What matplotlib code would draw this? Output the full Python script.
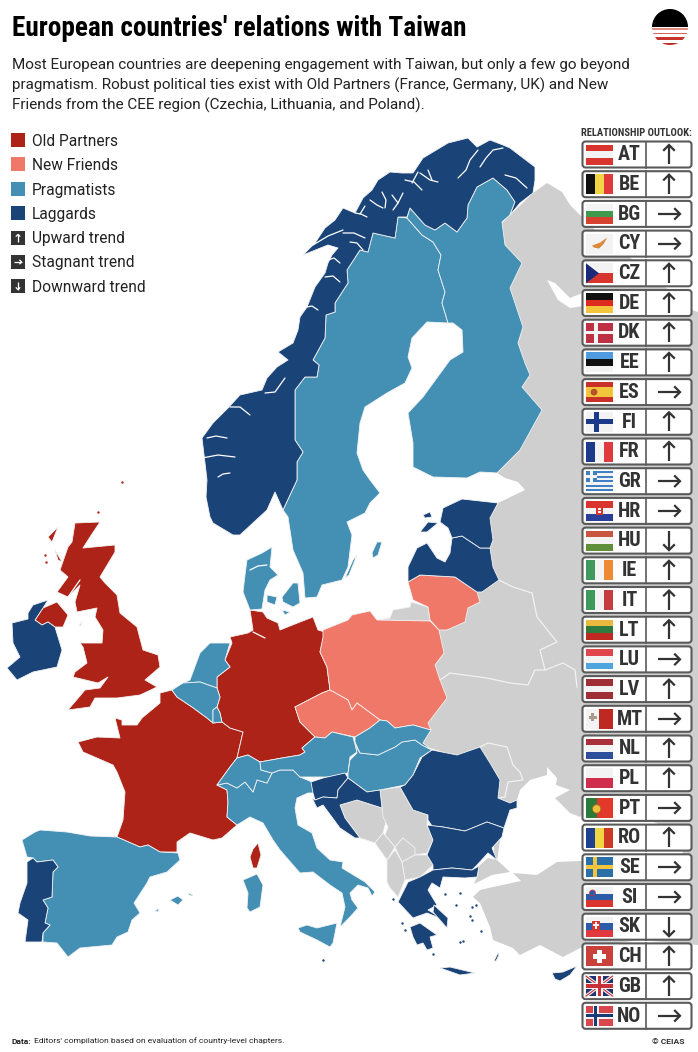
# -*- coding: utf-8 -*-
import matplotlib
matplotlib.use('Agg')
import matplotlib.pyplot as plt
from matplotlib import font_manager
from matplotlib.patches import Polygon, Rectangle, FancyBboxPatch, Circle

# colours
OLD = '#AE2318'
NEW = '#EF7868'
PRAG = '#4490B5'
LAG = '#1A4377'
GREY = '#CFCFCF'

TITLE = "European countries' relations with Taiwan"
INTRO = ["Most European countries are deepening engagement with Taiwan, but only a few go beyond",
         "pragmatism. Robust political ties exist with Old Partners (France, Germany, UK) and New",
         "Friends from the CEE region (Czechia, Lithuania, and Poland)."]
LEGEND_GROUPS = ['Old Partners', 'New Friends', 'Pragmatists', 'Laggards']
LEGEND_TRENDS = ['Upward trend', 'Stagnant trend', 'Downward trend']
TREND_KEYS = ['up', 'right', 'down']

CODES = ['AT', 'BE', 'BG', 'CY', 'CZ', 'DE', 'DK', 'EE', 'ES', 'FI', 'FR', 'GR', 'HR', 'HU', 'IE',
         'IT', 'LT', 'LU', 'LV', 'MT', 'NL', 'PL', 'PT', 'RO', 'SE', 'SI', 'SK', 'CH', 'GB', 'NO']
TRENDS = ['up', 'up', 'right', 'right', 'up', 'up', 'up', 'up', 'right', 'up', 'up', 'right', 'right', 'down', 'up',
          'up', 'up', 'right', 'up', 'right', 'up', 'up', 'right', 'up', 'right', 'right', 'down', 'up', 'up', 'right']

# flags made of plain stripes: (direction, colours)
STRIPES = {
    'AT': ('h', ['#D8352F', '#F3F3F3', '#D8352F']),
    'BE': ('v', ['#111111', '#F2D545', '#E03A3E']),
    'BG': ('h', ['#F3F3F3', '#3E9A4C', '#D8412F']),
    'CZ': ('h', ['#F3F3F3', '#D8352F']),
    'DE': ('h', ['#111111', '#DD2C1F', '#F2C53D']),
    'EE': ('h', ['#4F9BE0', '#111111', '#F3F3F3']),
    'FR': ('v', ['#1B3A8A', '#F3F3F3', '#E03A3E']),
    'HU': ('h', ['#C8553D', '#F3F3F3', '#5F8F3A']),
    'IE': ('v', ['#3E9A5C', '#F3F3F3', '#EE8A33']),
    'IT': ('v', ['#3E9A5C', '#F3F3F3', '#C43D40']),
    'LT': ('h', ['#E8B93C', '#2F7A3E', '#BE2A22']),
    'LU': ('h', ['#E0474C', '#F3F3F3', '#4FA6DE']),
    'LV': ('h', ['#9E3035', '#F3F3F3', '#9E3035']),
    'NL': ('h', ['#A8303A', '#F3F3F3', '#2E4F9A']),
    'PL': ('h', ['#F3F3F3', '#CF2E4C']),
    'RO': ('v', ['#1F3F8F', '#F2D545', '#CC3A26']),
    'SI': ('h', ['#F3F3F3', '#2A5CAA', '#D8352F']),
    'SK': ('h', ['#F3F3F3', '#2A5CAA', '#E03A3E']),
    'HR': ('h', ['#D8352F', '#F3F3F3', '#2A3F9A']),
    'ES': ('h', ['#C9302A', '#F2C53D', '#F2C53D', '#C9302A']),
}

# map outlines (x right, y down)
NORWAY = [(535, 167), (510, 148), (503, 145), (490, 140), (477, 147), (468, 138), (448, 143), (423, 158), (413, 173),
          (402, 173), (390, 172), (378, 180), (372, 190), (363, 198), (355, 213), (343, 208), (335, 220), (325, 228),
          (315, 243), (303, 255), (328, 245), (338, 248), (332, 255), (328, 263), (325, 273), (315, 287), (307, 307),
          (300, 317), (298, 330), (293, 343), (278, 352), (288, 360), (277, 367), (267, 378), (262, 390), (240, 395),
          (228, 408), (213, 423), (202, 438), (205, 463), (207, 480), (206, 497), (210, 517), (213, 523), (233, 535),
          (240, 535), (267, 510), (275, 492), (283, 510), (297, 480), (297, 462), (303, 452), (295, 440), (295, 390),
          (305, 377), (317, 377), (319, 365), (313, 360), (325, 338), (326, 315), (335, 312), (335, 303), (348, 283),
          (347, 270), (360, 250), (368, 252), (373, 233), (395, 238), (398, 217), (407, 217), (410, 208), (425, 225),
          (435, 230), (445, 223), (457, 232), (467, 218), (468, 205), (477, 187), (493, 178), (507, 190), (515, 202),
          (510, 215), (520, 203), (533, 193), (535, 180)]
SWEDEN = [(398, 217), (407, 218), (422, 235), (433, 242), (441, 255), (438, 270), (445, 292), (442, 303), (448, 323),
          (427, 322), (412, 338), (408, 357), (412, 368), (405, 383), (387, 393), (365, 407), (360, 423), (357, 453),
          (363, 470), (370, 480), (380, 493), (370, 503), (365, 513), (347, 522), (352, 535), (348, 567), (342, 580),
          (322, 585), (317, 597), (305, 598), (303, 573), (293, 550), (288, 517), (283, 510), (297, 480), (297, 462),
          (303, 452), (295, 440), (295, 390), (305, 377), (317, 377), (319, 365), (313, 360), (325, 338), (326, 315),
          (335, 312), (335, 303), (348, 283), (347, 270), (360, 250), (368, 252), (373, 233), (395, 238)]
FINLAND = [(448, 323), (442, 303), (445, 292), (438, 270), (441, 255), (433, 242), (422, 235), (407, 218), (410, 208),
           (425, 225), (435, 230), (445, 223), (457, 232), (467, 218), (468, 205), (477, 187), (493, 178), (507, 190),
           (515, 202), (510, 215), (502, 222), (505, 245), (522, 263), (510, 288), (523, 327), (518, 343), (525, 363),
           (530, 375), (522, 387), (542, 410), (520, 450), (497, 473), (480, 472), (467, 478), (433, 477), (413, 467),
           (413, 443), (408, 413), (423, 397), (450, 360), (463, 352), (462, 330), (453, 323)]
JUTLAND = [(272, 547), (262, 553), (247, 560), (245, 575), (243, 592), (250, 610), (262, 609), (265, 590), (270, 580),
           (278, 575), (270, 567)]
ZEALAND = [(282, 597), (293, 583), (298, 583), (300, 603), (293, 607), (283, 602)]
FUNEN = [(267, 595), (277, 597), (275, 605), (267, 602)]
LOLLAND = [(282, 610), (290, 612), (285, 615)]
GERMANY = [(250, 610), (263, 612), (267, 618), (278, 623), (280, 630), (300, 622), (313, 617), (318, 630), (325, 632),
           (320, 652), (327, 667), (330, 690), (322, 693), (295, 707), (300, 722), (315, 737), (302, 748), (305, 752),
           (300, 755), (282, 758), (260, 762), (248, 755), (237, 758), (243, 732), (230, 728), (222, 722), (220, 713),
           (217, 707), (220, 697), (217, 688), (217, 677), (230, 667), (225, 660), (232, 643), (230, 637), (248, 633),
           (253, 630)]
NETHERLANDS = [(230, 643), (210, 643), (200, 653), (190, 680), (183, 683), (200, 682), (217, 688), (217, 677),
               (230, 667), (225, 660)]
BELGIUM = [(172, 690), (183, 683), (200, 682), (217, 688), (220, 697), (217, 707), (213, 710), (213, 723), (207, 718),
           (192, 707), (177, 697)]
LUXEMBOURG = [(213, 710), (217, 707), (220, 713), (222, 722), (213, 723)]
FRANCE = [(172, 690), (160, 693), (160, 703), (142, 718), (137, 725), (122, 725), (122, 720), (115, 718), (120, 738),
          (97, 737), (78, 742), (83, 752), (113, 765), (117, 772), (125, 792), (123, 820), (117, 837), (140, 847),
          (148, 845), (160, 852), (177, 852), (177, 842), (190, 833), (213, 840), (222, 838), (237, 825), (227, 817),
          (228, 802), (227, 790), (217, 785), (230, 767), (237, 758), (243, 732), (230, 728), (222, 722), (213, 723),
          (207, 718), (192, 707), (177, 697)]
CORSICA = [(258, 843), (261, 855), (257, 868), (253, 868), (250, 857), (253, 849)]
SPAIN = [(35, 832), (22, 840), (27, 857), (33, 858), (37, 862), (53, 860), (58, 867), (53, 872), (52, 897), (43, 900),
         (48, 908), (45, 923), (50, 925), (43, 933), (43, 942), (57, 943), (68, 957), (80, 948), (112, 945),
         (117, 937), (128, 932), (132, 920), (140, 913), (134, 903), (147, 883), (150, 877), (167, 872), (180, 860),
         (178, 853), (160, 852), (148, 845), (140, 847), (117, 837), (90, 836), (67, 832), (40, 830)]
PORTUGAL = [(33, 858), (27, 862), (27, 883), (20, 903), (18, 913), (28, 920), (25, 942), (42, 942), (43, 933),
            (50, 925), (45, 923), (48, 908), (43, 900), (52, 897), (53, 872), (58, 867), (53, 860), (37, 862)]
MALLORCA = [(170, 900), (178, 896), (183, 900), (178, 905)]
MENORCA = [(188, 893), (193, 895), (192, 896), (189, 895)]
IBIZA = [(155, 911), (159, 908), (158, 912)]
SARDINIA = [(243, 880), (257, 874), (263, 885), (260, 907), (250, 912), (247, 908), (248, 893)]
SICILY = [(298, 928), (307, 925), (317, 928), (337, 923), (333, 943), (330, 947), (317, 940), (300, 932)]
ITALY = [(217, 785), (227, 783), (237, 788), (245, 782), (253, 792), (257, 780), (267, 783), (272, 773), (280, 770),
         (293, 770), (300, 777), (312, 782), (315, 793), (308, 793), (297, 798), (295, 808), (298, 825), (312, 833),
         (317, 848), (330, 860), (343, 862), (342, 868), (365, 882), (375, 892), (372, 896), (368, 888), (358, 885),
         (350, 893), (352, 900), (358, 908), (350, 917), (340, 927), (345, 907), (342, 893), (330, 885), (313, 872),
         (300, 873), (280, 850), (273, 840), (263, 823), (250, 817), (237, 825), (227, 817), (228, 802), (227, 790)]
SWITZERLAND = [(217, 785), (230, 767), (237, 758), (248, 755), (260, 762), (261, 770), (272, 773), (267, 783),
               (257, 780), (253, 792), (245, 782), (237, 788), (227, 783)]
AUSTRIA = [(261, 770), (260, 762), (282, 758), (300, 755), (305, 752), (302, 748), (315, 737), (325, 738), (332, 732),
           (353, 737), (357, 752), (350, 757), (348, 773), (328, 777), (300, 777), (293, 770), (280, 770), (272, 773)]
CZECHIA = [(295, 707), (322, 693), (330, 690), (348, 700), (352, 710), (357, 703), (380, 720), (370, 728), (355, 737),
           (332, 732), (325, 738), (315, 737), (300, 722)]
POLAND = [(323, 630), (348, 620), (352, 615), (370, 611), (377, 620), (430, 621), (439, 630), (444, 653), (435, 665),
          (440, 680), (447, 698), (428, 723), (431, 730), (413, 725), (395, 728), (387, 721), (380, 720), (357, 703),
          (352, 710), (348, 700), (330, 690), (327, 667), (320, 652), (323, 637)]
KALININGRAD = [(393, 610), (410, 607), (411, 602), (428, 607), (430, 621), (377, 620), (390, 618)]
LITHUANIA = [(408, 582), (420, 575), (455, 577), (477, 592), (480, 602), (468, 608), (465, 622), (447, 630), (439, 630),
             (430, 620), (429, 613), (428, 607), (413, 600)]
LATVIA = [(408, 582), (408, 567), (417, 548), (427, 543), (437, 558), (445, 562), (450, 553), (452, 538), (462, 536),
          (480, 548), (490, 548), (493, 567), (499, 580), (482, 592), (477, 592), (455, 577), (420, 575)]
ESTONIA = [(452, 538), (448, 528), (440, 522), (443, 508), (462, 499), (498, 503), (490, 518), (493, 540), (490, 548),
           (480, 548), (462, 536)]
SAAREMAA = [(420, 532), (428, 522), (438, 523), (427, 532)]
HIIUMAA = [(423, 515), (430, 512), (432, 517), (425, 518)]
GOTLAND = [(372, 553), (377, 542), (382, 542), (378, 555), (373, 558)]
OLAND = [(345, 578), (353, 560), (357, 555), (349, 575)]
HUNGARY = [(355, 742), (358, 750), (360, 753), (378, 755), (395, 747), (402, 742), (415, 740), (422, 745), (432, 750),
           (420, 758), (413, 775), (405, 785), (380, 790), (367, 792), (348, 778), (348, 773), (350, 760), (357, 753)]
SLOVAKIA = [(380, 720), (387, 721), (395, 728), (413, 725), (431, 730), (423, 743), (432, 750), (422, 745), (415, 740),
            (402, 742), (395, 747), (378, 755), (360, 753), (355, 742), (355, 737), (370, 728)]
SLOVENIA = [(311, 782), (323, 778), (345, 773), (348, 778), (338, 790), (337, 798), (323, 797), (315, 800), (313, 793)]
CROATIA = [(348, 778), (367, 792), (380, 790), (382, 808), (357, 800), (340, 805), (345, 818), (360, 838), (355, 838),
           (340, 828), (323, 805), (317, 808), (312, 798), (315, 800), (323, 797), (337, 798), (338, 790)]
BOSNIA = [(340, 805), (357, 800), (382, 808), (387, 818), (383, 833), (375, 843), (360, 838), (345, 818)]
SERBIA = [(380, 790), (400, 787), (413, 810), (428, 815), (427, 825), (433, 840), (427, 853), (415, 855), (403, 838),
          (395, 847), (385, 835), (388, 827), (383, 817), (382, 808)]
MONTENEGRO = [(375, 843), (383, 833), (395, 847), (387, 860)]
KOSOVO = [(395, 847), (403, 838), (415, 848), (415, 855), (402, 862)]
MACEDONIA = [(402, 862), (415, 855), (427, 855), (433, 865), (420, 877), (405, 880)]
ALBANIA = [(387, 860), (395, 850), (402, 862), (405, 880), (398, 897), (390, 888), (387, 882)]
ROMANIA = [(400, 787), (405, 785), (413, 775), (422, 757), (432, 750), (457, 755), (480, 747), (490, 763), (500, 780),
           (498, 798), (510, 803), (517, 800), (517, 808), (510, 810), (504, 828), (487, 822), (465, 831), (443, 827),
           (432, 826), (428, 820), (428, 815), (413, 810)]
BULGARIA = [(427, 825), (443, 827), (465, 831), (487, 822), (504, 828), (502, 837), (492, 848), (497, 860), (488, 853),
            (477, 865), (472, 870), (452, 868), (433, 870), (433, 865), (427, 855), (433, 840)]
GREECE = [(433, 870), (452, 868), (472, 870), (479, 866), (477, 877), (465, 878), (443, 877), (440, 888), (432, 883),
          (428, 890), (437, 905), (428, 910), (448, 922), (446, 927), (437, 917), (427, 913), (413, 918), (398, 902),
          (408, 882), (420, 877)]
EVIA = [(434, 905), (448, 918), (447, 928), (440, 920), (433, 912)]
PELOPONNESE = [(410, 927), (420, 923), (437, 935), (430, 937), (433, 948), (427, 950), (423, 943), (417, 945),
               (413, 937)]
CRETE = [(440, 968), (450, 967), (475, 973), (460, 975)]
RHODES = [(494, 961), (498, 953), (499, 955), (496, 961)]
CYPRUS = [(552, 973), (563, 972), (577, 966), (570, 975), (560, 981), (555, 979)]
GREAT_BRITAIN = [(75, 523), (100, 522), (90, 537), (83, 548), (115, 545), (115, 552), (100, 577), (105, 583),
                 (117, 595), (120, 613), (137, 627), (143, 650), (158, 655), (160, 667), (145, 680), (157, 687),
                 (140, 695), (117, 698), (95, 698), (90, 707), (68, 710), (85, 690), (100, 688), (108, 677), (98, 683),
                 (73, 677), (75, 672), (87, 663), (83, 647), (80, 643), (102, 643), (103, 630), (95, 617), (97, 608),
                 (77, 612), (75, 602), (80, 585), (68, 597), (57, 592), (68, 577), (60, 570), (68, 547), (72, 542)]
N_IRELAND = [(35, 620), (43, 608), (57, 602), (68, 615), (63, 627), (55, 627), (48, 622), (42, 625)]
IRELAND = [(12, 623), (28, 619), (28, 613), (33, 605), (48, 600), (43, 608), (35, 620), (42, 625), (48, 622), (55, 627),
           (62, 650), (57, 667), (33, 672), (17, 680), (7, 668), (20, 657), (13, 643)]
LEWIS = [(48, 537), (58, 527), (52, 542)]
SKYE = [(55, 550), (62, 562), (58, 560)]
MAN = [(79, 626), (82, 621), (81, 626)]
MAINLAND_EAST = [(533, 193), (547, 183), (562, 192), (570, 205), (600, 235), (640, 265), (692, 310), (698, 312),
                 (698, 862), (495, 862), (490, 800), (470, 760), (420, 745), (425, 700), (430, 650), (450, 610),
                 (470, 600), (470, 570), (480, 510), (490, 503), (498, 503), (525, 490), (518, 482), (505, 478),
                 (497, 473), (505, 450), (510, 380), (500, 300), (500, 225)]
WHITE_SEA = [(547, 280), (555, 283), (570, 298), (590, 290), (590, 305), (570, 308), (558, 300)]
BLACK_SEA = [(510, 810), (517, 800), (520, 790), (530, 780), (547, 775), (547, 767), (557, 778), (556, 785), (570, 790),
             (555, 798), (570, 813), (580, 817), (592, 805), (640, 815), (680, 835), (684, 860), (640, 872), (580, 866),
             (557, 865), (537, 878), (513, 875), (497, 862), (500, 840)]
THRACE = [(479, 866), (488, 858), (497, 860), (510, 872), (492, 875), (474, 884), (477, 877)]
ANATOLIA = [(513, 873), (537, 875), (557, 862), (580, 861), (640, 868), (684, 858), (698, 850), (698, 945), (640, 940),
            (580, 948), (563, 957), (540, 945), (520, 955), (513, 948), (493, 940), (490, 927), (480, 903), (473, 897),
            (480, 890), (493, 887), (507, 884), (521, 881)]

FJORDS = [[(458, 178), (466, 170), (470, 160), (478, 150)], [(480, 167), (486, 158), (493, 150), (503, 148)],
          [(505, 175), (516, 178), (527, 188)], [(438, 182), (430, 180), (420, 173)], [(432, 180), (428, 170)],
          [(422, 190), (414, 182), (405, 180)], [(412, 183), (418, 172)], [(403, 193), (398, 203), (393, 210)],
          [(398, 203), (392, 195)], [(382, 192), (386, 200), (385, 208)], [(370, 200), (377, 205), (383, 208)],
          [(355, 213), (361, 214), (367, 217)], [(360, 214), (365, 206)], [(343, 233), (354, 233), (365, 238)],
          [(350, 242), (357, 243), (363, 250)], [(328, 260), (334, 258), (340, 263)], [(325, 277), (333, 276), (340, 282)],
          [(307, 307), (312, 306), (318, 310)], [(265, 393), (275, 392), (285, 378)], [(230, 407), (240, 407), (250, 415)],
          [(207, 438), (216, 436), (227, 438)], [(202, 458), (218, 455), (235, 457)], [(218, 477), (223, 474), (230, 473)],
          [(313, 245), (328, 236), (343, 230)], [(250, 570), (258, 566), (267, 565)], [(253, 632), (265, 638)],
          [(68, 597), (80, 580)]]
EAST_BORDERS = [[(499, 580), (513, 587), (532, 593), (537, 617), (557, 642), (540, 650), (545, 670), (563, 663),
                 (575, 670), (577, 687)],
                [(440, 680), (450, 673), (487, 678), (510, 683), (528, 685), (535, 670), (545, 670)],
                [(480, 747), (488, 743), (507, 747), (513, 765), (520, 772), (523, 780), (508, 782), (505, 797),
                 (498, 798)]]
AEGEAN_ISLETS = [(472, 907), (476, 905), (472, 920), (470, 916), (402, 923), (405, 930), (460, 942), (463, 941),
                 (481, 931), (445, 894), (460, 893), (456, 905), (418, 904), (393, 899), (323, 960), (433, 954)]
BRITISH_ISLETS = [(98, 512), (122, 482), (45, 555), (46, 562)]

# where everything sits
ROW_Y0 = 154.5
ROW_STEP = 29.7
LEGEND_Y = [141, 165, 190, 214, 239, 263, 287]

names = {f.name for f in font_manager.fontManager.ttflist}
NARROW = 'Roboto Condensed' if 'Roboto Condensed' in names else 'Liberation Sans Narrow'
if NARROW not in names:
    NARROW = 'Roboto'
plt.rcParams['font.family'] = ['Roboto', 'DejaVu Sans']

fig = plt.figure(figsize=(6.98, 10.52), dpi=100)
ax = fig.add_axes([0, 0, 1, 1])
ax.set_xlim(0, 698)
ax.set_ylim(1052, 0)
ax.axis('off')


def fill(shapes, color, lw=0.6, z=3):
    for s in shapes:
        ax.add_patch(Polygon(s, closed=True, fc=color, ec='#F2F2F2', lw=lw, zorder=z, joinstyle='round'))


def arrow(x, y, direction, color, size, lw, z=12, head=None):
    dx, dy = {'up': (0, -1), 'down': (0, 1), 'right': (1, 0)}[direction]
    head = size * 0.42 if head is None else head
    tip = (x + dx * size, y + dy * size)
    ax.plot([x - dx * size, tip[0]], [y - dy * size, tip[1]], color=color, lw=lw, zorder=z, solid_capstyle='butt')
    # two strokes for the head
    px, py = -dy, dx
    back = (tip[0] - dx * head, tip[1] - dy * head)
    ax.plot([back[0] + px * head, tip[0], back[0] - px * head], [back[1] + py * head, tip[1], back[1] - py * head],
            color=color, lw=lw, zorder=z, solid_joinstyle='miter')


def rect(x, y, w, h, color, clip=None, z=10):
    r = Rectangle((x, y), w, h, fc=color, ec='none', zorder=z)
    ax.add_patch(r)
    if clip is not None:
        r.set_clip_path(clip)
    return r


def flag(code, y):
    x0, w, h = 586, 26.5, 20
    y0 = y - h / 2
    rect(x0, y0, w, h, '#F3F3F3')
    if code in STRIPES:
        direction, cols = STRIPES[code]
        for i, c in enumerate(cols):
            if direction == 'h':
                rect(x0, y0 + i * h / len(cols), w, h / len(cols), c)
            else:
                rect(x0 + i * w / len(cols), y0, w / len(cols), h, c)
    if code == 'CY':
        ax.add_patch(Polygon([(x0 + 6, y + 2), (x0 + 14, y - 1), (x0 + 21, y - 6), (x0 + 18, y), (x0 + 13, y + 5),
                              (x0 + 8, y + 4)], fc='#D98A3A', ec='none', zorder=11))
    elif code == 'CZ':
        ax.add_patch(Polygon([(x0, y0), (x0 + 13, y), (x0, y0 + h)], fc='#1B2A78', ec='none', zorder=11))
    elif code == 'DK':
        rect(x0, y0, w, h, '#BE3145', z=10.5)
        rect(x0 + 8, y0, 3.5, h, '#F3F3F3', z=11)
        rect(x0, y - 1.7, w, 3.4, '#F3F3F3', z=11)
    elif code == 'FI':
        rect(x0 + 8, y0, 5, h, '#1B3A8A', z=11)
        rect(x0, y - 2.5, w, 5, '#1B3A8A', z=11)
    elif code == 'SE':
        rect(x0, y0, w, h, '#2A6FA8', z=10.5)
        rect(x0 + 7, y0, 4, h, '#F2C53D', z=11)
        rect(x0, y - 2, w, 4, '#F2C53D', z=11)
    elif code == 'NO':
        rect(x0, y0, w, h, '#D8474C', z=10.5)
        rect(x0 + 6.5, y0, 6, h, '#F3F3F3', z=11)
        rect(x0, y - 3, w, 6, '#F3F3F3', z=11)
        rect(x0 + 8, y0, 3, h, '#1B3A78', z=11.5)
        rect(x0, y - 1.5, w, 3, '#1B3A78', z=11.5)
    elif code == 'CH':
        rect(x0, y0, w, h, '#C9413A', z=10.5)
        rect(x0 + 11, y - 6.5, 4.5, 13, 'white', z=11)
        rect(x0 + 6.7, y - 2.2, 13, 4.5, 'white', z=11)
    elif code == 'GB':
        rect(x0, y0, w, h, '#24346F', z=10.5)
        ax.plot([x0, x0 + w], [y0, y0 + h], color='#F3F3F3', lw=2.4, zorder=11)
        ax.plot([x0, x0 + w], [y0 + h, y0], color='#F3F3F3', lw=2.4, zorder=11)
        ax.plot([x0, x0 + w], [y0, y0 + h], color='#C8313A', lw=0.8, zorder=11.2)
        ax.plot([x0, x0 + w], [y0 + h, y0], color='#C8313A', lw=0.8, zorder=11.2)
        rect(x0 + 10, y0, 6.5, h, '#F3F3F3', z=11.3)
        rect(x0, y - 3.2, w, 6.4, '#F3F3F3', z=11.3)
        rect(x0 + 11.5, y0, 3.5, h, '#C8313A', z=11.5)
        rect(x0, y - 1.7, w, 3.4, '#C8313A', z=11.5)
    elif code == 'GR':
        for i in range(9):
            rect(x0, y0 + i * h / 9, w, h / 9, '#3F7FC4' if i % 2 == 0 else '#F3F3F3', z=10.5)
        rect(x0, y0, 11, 11, '#3F7FC4', z=11)
        rect(x0 + 4.2, y0, 2.6, 11, '#F3F3F3', z=11.2)
        rect(x0, y0 + 4.2, 11, 2.6, '#F3F3F3', z=11.2)
    elif code == 'HR':
        rect(x0 + 10, y - 5, 7, 9, '#D8352F', z=11)
        rect(x0 + 12, y - 3, 3, 2.5, '#F3F3F3', z=11.2)
        rect(x0 + 12, y + 0.5, 3, 2, '#F3F3F3', z=11.2)
    elif code == 'MT':
        rect(x0 + w / 2, y0, w / 2, h, '#BE2A22', z=11)
        rect(x0 + 5, y - 5.5, 2.8, 8, '#A89A88', z=11)
        rect(x0 + 2.5, y - 3, 8, 2.8, '#A89A88', z=11)
    elif code == 'PT':
        rect(x0, y0, w, h, '#E3392A', z=10.5)
        rect(x0, y0, w * 0.4, h, '#2C7A3A', z=11)
        ax.add_patch(Circle((x0 + w * 0.4, y + 1), 4.2, fc='#E8C23C', ec='#B06020', lw=0.5, zorder=11.5))
    elif code == 'ES':
        ax.add_patch(Circle((x0 + 8, y), 3.4, fc='#B5522A', ec='none', zorder=11))
    elif code == 'SI':
        ax.add_patch(Circle((x0 + 6.5, y - 4), 3, fc='#2A5CAA', ec='#D8352F', lw=0.5, zorder=11))
    elif code == 'SK':
        rect(x0 + 6, y - 5.5, 7.5, 9.5, '#D8352F', z=11)
        rect(x0 + 9, y - 4.5, 1.5, 7, '#F3F3F3', z=11.2)
        rect(x0 + 7, y - 2.5, 5.5, 1.4, '#F3F3F3', z=11.2)


# grey neighbours first, then the sea on top of them, then the countries
fill([MAINLAND_EAST], GREY, lw=0, z=1)
ax.add_patch(Polygon(WHITE_SEA, fc='white', ec='none', zorder=1.5))
ax.add_patch(Polygon(BLACK_SEA, fc='white', ec='none', zorder=1.5))
fill([ANATOLIA, THRACE], GREY, lw=0, z=2)
fill([BOSNIA, SERBIA, MONTENEGRO, KOSOVO, MACEDONIA, ALBANIA, KALININGRAD, MAN], GREY)
for line in EAST_BORDERS:
    ax.plot(*zip(*line), color='#F2F2F2', lw=0.9, zorder=2.5)

fill([FRANCE, CORSICA, GERMANY, GREAT_BRITAIN, N_IRELAND, LEWIS, SKYE], OLD)
fill([POLAND, CZECHIA, LITHUANIA], NEW)
fill([SWEDEN, FINLAND, JUTLAND, ZEALAND, FUNEN, LOLLAND, NETHERLANDS, BELGIUM, LUXEMBOURG, SPAIN, MALLORCA, MENORCA,
      IBIZA, SARDINIA, SICILY, ITALY, SWITZERLAND, AUSTRIA, HUNGARY, SLOVAKIA, GOTLAND, OLAND], PRAG)
fill([NORWAY, PORTUGAL, IRELAND, LATVIA, ESTONIA, SAAREMAA, HIIUMAA, SLOVENIA, CROATIA, ROMANIA, BULGARIA, GREECE, EVIA,
      PELOPONNESE, CRETE, RHODES, CYPRUS], LAG)
for line in FJORDS:
    ax.plot(*zip(*line), color='white', lw=0.9, zorder=4, solid_capstyle='round')
ax.scatter(*zip(*AEGEAN_ISLETS), s=3, color=LAG, lw=0, zorder=4)
ax.scatter(*zip(*BRITISH_ISLETS), s=3, color=OLD, lw=0, zorder=4)

# heading
ax.text(12, 28, TITLE, fontsize=19.6, fontweight='bold', family=NARROW, color='black', va='center', ha='left')
for line, y in zip(INTRO, [65, 85, 105]):
    ax.text(12, y, line, fontsize=11.0, color='#222222', va='center', ha='left')

# logo
logo = Circle((670, 27), 18, transform=ax.transData)
rect(650, 9, 40, 18, 'black', clip=logo)
for y, h, c in zip([28, 32.5, 37, 42.5], [1.8, 1.8, 2.6, 2.8], ['#E58B80', '#D9655A', '#C9342A', '#BF2A22']):
    rect(650, y, 40, h, c, clip=logo)

# legend
for label, y, c in zip(LEGEND_GROUPS, LEGEND_Y, [OLD, NEW, PRAG, LAG]):
    rect(11, y - 8, 14, 14, c)
    ax.text(32, y, label, fontsize=11.2, color='#222222', va='center', ha='left')
for label, y, key in zip(LEGEND_TRENDS, LEGEND_Y[4:], TREND_KEYS):
    rect(11, y - 8, 14, 14, '#333333')
    arrow(18, y - 1, key, 'white', 3.6, 0.9, head=1.8)
    ax.text(32, y, label, fontsize=11.2, color='#222222', va='center', ha='left')

# relationship outlook panel
ax.text(581, 133, 'RELATIONSHIP OUTLOOK:', fontsize=7.6, fontweight='bold', family=NARROW, color='#333333',
        va='center', ha='left')
for i, (code, trend) in enumerate(zip(CODES, TRENDS)):
    y = ROW_Y0 + i * ROW_STEP
    ax.add_patch(FancyBboxPatch((584, y - 11.5), 106, 23, boxstyle='round,pad=1.5,rounding_size=3', fc='white',
                                ec='#5A5A5A', lw=1.5, zorder=9))
    ax.plot([645.7, 645.7], [y - 13, y + 13], color='#5A5A5A', lw=1.2, zorder=10)
    flag(code, y)
    ax.text(629.5, y + 0.3, code, fontsize=14.5, fontweight='bold', family=NARROW, color='#333333', va='center',
            ha='center', zorder=12)
    arrow(669, y, trend, '#333333', 11 if trend == 'right' else 9.5, 1.6, head=5)

# footer
ax.text(12, 1041, 'Data:', fontsize=6.1, fontweight='bold', color='#222222', va='center', ha='left')
ax.text(33.5, 1041, "Editors' compilation based on evaluation of country-level chapters.", fontsize=6.1, color='#222222',
        va='center', ha='left')
ax.text(685, 1041, '© CEIAS', fontsize=6.1, fontweight='bold', color='#333333', va='center', ha='right')

fig.savefig('out.png', dpi=100)
